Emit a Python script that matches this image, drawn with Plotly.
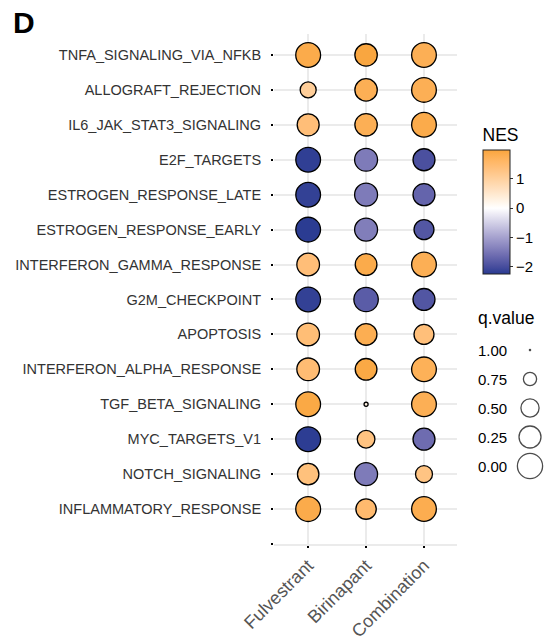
import numpy as np
import plotly.graph_objects as go

# ---------------- data ----------------
pathways = [
    "TNFA_SIGNALING_VIA_NFKB", "ALLOGRAFT_REJECTION", "IL6_JAK_STAT3_SIGNALING",
    "E2F_TARGETS", "ESTROGEN_RESPONSE_LATE", "ESTROGEN_RESPONSE_EARLY",
    "INTERFERON_GAMMA_RESPONSE", "G2M_CHECKPOINT", "APOPTOSIS",
    "INTERFERON_ALPHA_RESPONSE", "TGF_BETA_SIGNALING", "MYC_TARGETS_V1",
    "NOTCH_SIGNALING", "INFLAMMATORY_RESPONSE",
]
treatments = ["Fulvestrant", "Birinapant", "Combination"]

nes_fulvestrant = [1.85, 1.05, 1.40, -2.18, -2.15, -2.22, 1.40, -2.15, 1.42, 1.45, 1.90, -2.20, 1.35, 1.85]
nes_birinapant = [1.95, 1.75, 1.75, -1.43, -1.43, -1.40, 1.85, -1.80, 1.78, 1.90, 0.30, 1.30, -1.43, 1.50]
nes_combination = [1.75, 1.75, 1.85, -1.95, -1.70, -1.87, 1.75, -1.88, 1.38, 1.72, 1.75, -1.60, 1.28, 1.80]

q_fulvestrant = [0.03, 0.62, 0.25, 0.04, 0.04, 0.04, 0.20, 0.04, 0.20, 0.20, 0.04, 0.03, 0.29, 0.03]
q_birinapant = [0.22, 0.22, 0.22, 0.18, 0.18, 0.18, 0.27, 0.065, 0.27, 0.27, 0.986, 0.53, 0.18, 0.36]
q_combination = [0.04, 0.04, 0.04, 0.25, 0.25, 0.39, 0.04, 0.25, 0.39, 0.04, 0.04, 0.25, 0.57, 0.04]

q_breaks = [1.00, 0.75, 0.50, 0.25, 0.00]
q_break_labels = ["1.00", "0.75", "0.50", "0.25", "0.00"]
nes_ticks = [-2, -1, 0, 1]
nes_tick_labels = ["\u22122", "\u22121", "0", "1"]

NES_MIN, NES_MAX = -2.24, 1.98
LOW, MID, HIGH = "#283a91", "#ffffff", "#f9a53d"

# ---------------- colour scale (Lab interpolation like ggplot) ----------------
def hex2rgb(h):
    h = h.lstrip("#")
    return np.array([int(h[i:i + 2], 16) / 255 for i in (0, 2, 4)])

def rgb2lab(c):
    c = np.where(c > 0.04045, ((c + 0.055) / 1.055) ** 2.4, c / 12.92)
    M = np.array([[0.4124, 0.3576, 0.1805], [0.2126, 0.7152, 0.0722], [0.0193, 0.1192, 0.9505]])
    xyz = M @ c / np.array([0.95047, 1.0, 1.08883])
    f = np.where(xyz > 0.008856, np.cbrt(xyz), 7.787 * xyz + 16 / 116)
    return np.array([116 * f[1] - 16, 500 * (f[0] - f[1]), 200 * (f[1] - f[2])])

def lab2hex(lab):
    L, a, b = lab
    fy = (L + 16) / 116
    fx = fy + a / 500
    fz = fy - b / 200
    f = np.array([fx, fy, fz])
    xyz = np.where(f ** 3 > 0.008856, f ** 3, (f - 16 / 116) / 7.787) * np.array([0.95047, 1.0, 1.08883])
    Mi = np.array([[3.2406, -1.5372, -0.4986], [-0.9689, 1.8758, 0.0415], [0.0557, -0.2040, 1.0570]])
    c = Mi @ xyz
    c = np.where(c > 0.0031308, 1.055 * np.clip(c, 0, None) ** (1 / 2.4) - 0.055, 12.92 * c)
    c = np.clip(c, 0, 1)
    return "#%02x%02x%02x" % tuple(int(round(v * 255)) for v in c)

zero_pos = (0 - NES_MIN) / (NES_MAX - NES_MIN)
lab_low, lab_mid, lab_high = rgb2lab(hex2rgb(LOW)), rgb2lab(hex2rgb(MID)), rgb2lab(hex2rgb(HIGH))
colorscale = []
for t in np.linspace(0, 1, 11):
    colorscale.append([zero_pos * t, lab2hex(lab_low + (lab_mid - lab_low) * t)])
for t in np.linspace(0, 1, 11)[1:]:
    colorscale.append([zero_pos + (1 - zero_pos) * t, lab2hex(lab_mid + (lab_high - lab_mid) * t)])

# size mapping (area ~ 1 - q)
LINE_W = 1.3
def q_to_size(q):
    return 1.2 + 24.0 * np.sqrt(1 - np.asarray(q, dtype=float))

# ---------------- figure geometry ----------------
W, H = 547, 642
px_x = lambda p: p / W
px_y = lambda p: 1 - p / H

fig = go.Figure()

nes_all = [nes_fulvestrant, nes_birinapant, nes_combination]
q_all = [q_fulvestrant, q_birinapant, q_combination]
xs, ys, cs, ss = [], [], [], []
for j, (nes, qv) in enumerate(zip(nes_all, q_all)):
    for i in range(len(pathways)):
        xs.append(j)
        ys.append(i)
        cs.append(nes[i])
        ss.append(q_to_size(qv[i]))

fig.add_trace(go.Scatter(
    x=xs, y=ys, mode="markers", showlegend=False, hoverinfo="skip",
    marker=dict(
        size=ss, color=cs, colorscale=colorscale, cmin=NES_MIN, cmax=NES_MAX,
        line=dict(color="black", width=LINE_W), opacity=1,
        showscale=True,
        colorbar=dict(
            title=dict(text="NES", side="top", font=dict(size=17.5, color="black", family="Liberation Sans")),
            x=px_x(483), xanchor="left", y=px_y(199.5), yanchor="middle",
            lenmode="pixels", len=149, thicknessmode="pixels", thickness=27,
            outlinecolor="#222", outlinewidth=1,
            tickvals=nes_ticks, ticktext=nes_tick_labels,
            ticks="outside", ticklen=3, tickcolor="#333", tickwidth=1,
            tickfont=dict(size=15, color="black", family="Liberation Sans"),
            xpad=0, ypad=0,
        ),
    ),
))

# size legend
fig.add_trace(go.Scatter(
    x=[0] * len(q_breaks), y=list(range(len(q_breaks))), mode="markers",
    xaxis="x2", yaxis="y2", showlegend=False, hoverinfo="skip",
    marker=dict(size=q_to_size(q_breaks), color="white",
                line=dict(color="black", width=LINE_W)),
))

grid = "#ebebeb"
fig.update_layout(
    width=W, height=H, margin=dict(l=0, r=0, t=0, b=0),
    paper_bgcolor="white", plot_bgcolor="white",
    font=dict(family="Liberation Sans"),
    xaxis=dict(
        domain=[px_x(274), px_x(457)], range=[-0.59, 2.57],
        tickvals=list(range(len(treatments))), ticktext=treatments, tickangle=-45,
        tickfont=dict(size=18, color="#555555"),
        showgrid=True, gridcolor=grid, gridwidth=2, zeroline=False,
        showline=True, linecolor=grid, linewidth=2,
        ticks="outside", ticklen=2, tickwidth=2, tickcolor="black",
        automargin=False, fixedrange=True,
    ),
    yaxis=dict(
        domain=[px_y(544), px_y(34)], range=[len(pathways), -0.6],
        tickvals=list(range(len(pathways) + 1)), ticktext=pathways + [""],
        tickfont=dict(size=14.5, color="#333333"),
        showgrid=True, gridcolor=grid, gridwidth=2, zeroline=False,
        ticks="outside", ticklen=2, tickwidth=2, tickcolor="black",
        ticklabelstandoff=7,
        automargin=False, fixedrange=True,
    ),
    xaxis2=dict(domain=[px_x(513), px_x(547)], range=[-1, 1], visible=False, fixedrange=True),
    yaxis2=dict(domain=[px_y(480.5), px_y(335.5)], range=[len(q_breaks) - 0.5, -0.5],
                visible=False, fixedrange=True),
)

annotations = [
    dict(text="<b>D</b>", x=px_x(11), y=px_y(22), xref="paper", yref="paper",
         xanchor="left", yanchor="middle", showarrow=False,
         font=dict(size=30, color="black", family="Liberation Sans")),
    dict(text="q.value", x=px_x(476), y=px_y(318), xref="paper", yref="paper",
         xanchor="left", yanchor="middle", showarrow=False,
         font=dict(size=17.5, color="black", family="Liberation Sans")),
]
for k, lab in enumerate(q_break_labels):
    annotations.append(dict(text=lab, x=px_x(476), y=k, xref="paper", yref="y2",
                            xanchor="left", yanchor="middle", showarrow=False,
                            font=dict(size=15, color="black", family="Liberation Sans")))
fig.update_layout(annotations=annotations)

fig.write_html("out.html", config={"displayModeBar": False},
               post_script="document.body.style.margin='0';document.body.style.overflow='hidden';")
